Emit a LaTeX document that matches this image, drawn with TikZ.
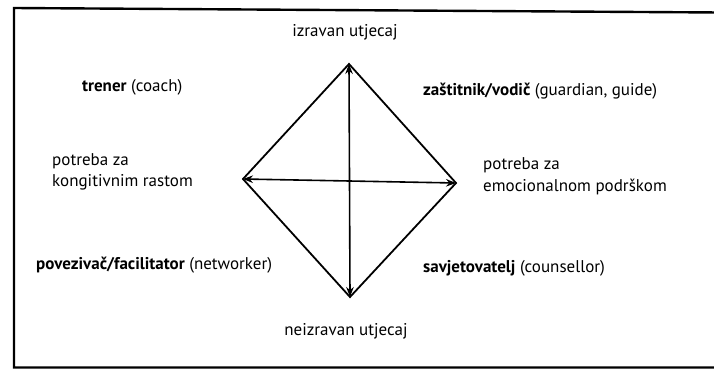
\documentclass[tikz,border=0pt]{standalone}
\usepackage{fontspec}
\setmainfont{PT Sans}
\usetikzlibrary{arrows.meta}
\begin{document}
\begin{tikzpicture}[x=1pt,y=-1pt,
  lbl/.style={inner sep=0pt,font=\fontsize{17}{21.5}\selectfont},
  edge/.style={line width=1.8pt,line join=miter},
  dbl/.style={line width=1.6pt,{Stealth[length=10pt,width=7.5pt]}-{Stealth[length=10pt,width=7.5pt]}}]
\useasboundingbox (0,0) rectangle (714,370);
\clip (0,0) rectangle (714,370);
\fill[white] (0,0) rectangle (714,370);
% frame
\draw[line width=2.4pt] (720,12.5) -- (14,8) -- (14,367.5) -- (720,367.5);
% diamond vertices
\coordinate (T) at (349,64);
\coordinate (B) at (350,297);
\coordinate (L) at (243,179);
\coordinate (R) at (456,183);
\draw[edge] (T) -- (R) -- (B) -- (L) -- cycle;
\draw[dbl] (T) -- (B);
\draw[dbl] (L) -- (R);
% labels
\node[lbl] (top) at (345,32) {izravan utjecaj};
\node[lbl] (bot) at (346,331) {neizravan utjecaj};
\node[lbl,anchor=west] (coach) at (82,87) {\textbf{trener} (coach)};
\node[lbl,anchor=west] (guard) at (423,91) {\textbf{zaštitnik/vodič} (guardian, guide)};
\node[lbl,anchor=west,align=left] (cog) at (52,172) {potreba za\\kongitivnim rastom};
\node[lbl,anchor=west,align=left] (emo) at (483,176) {potreba za\\emocionalnom podrškom};
\node[lbl,anchor=west] (net) at (36,265) {\textbf{povezivač/facilitator} (networker)};
\node[lbl,anchor=west] (couns) at (423,268) {\textbf{savjetovatelj} (counsellor)};
\end{tikzpicture}
\end{document}
